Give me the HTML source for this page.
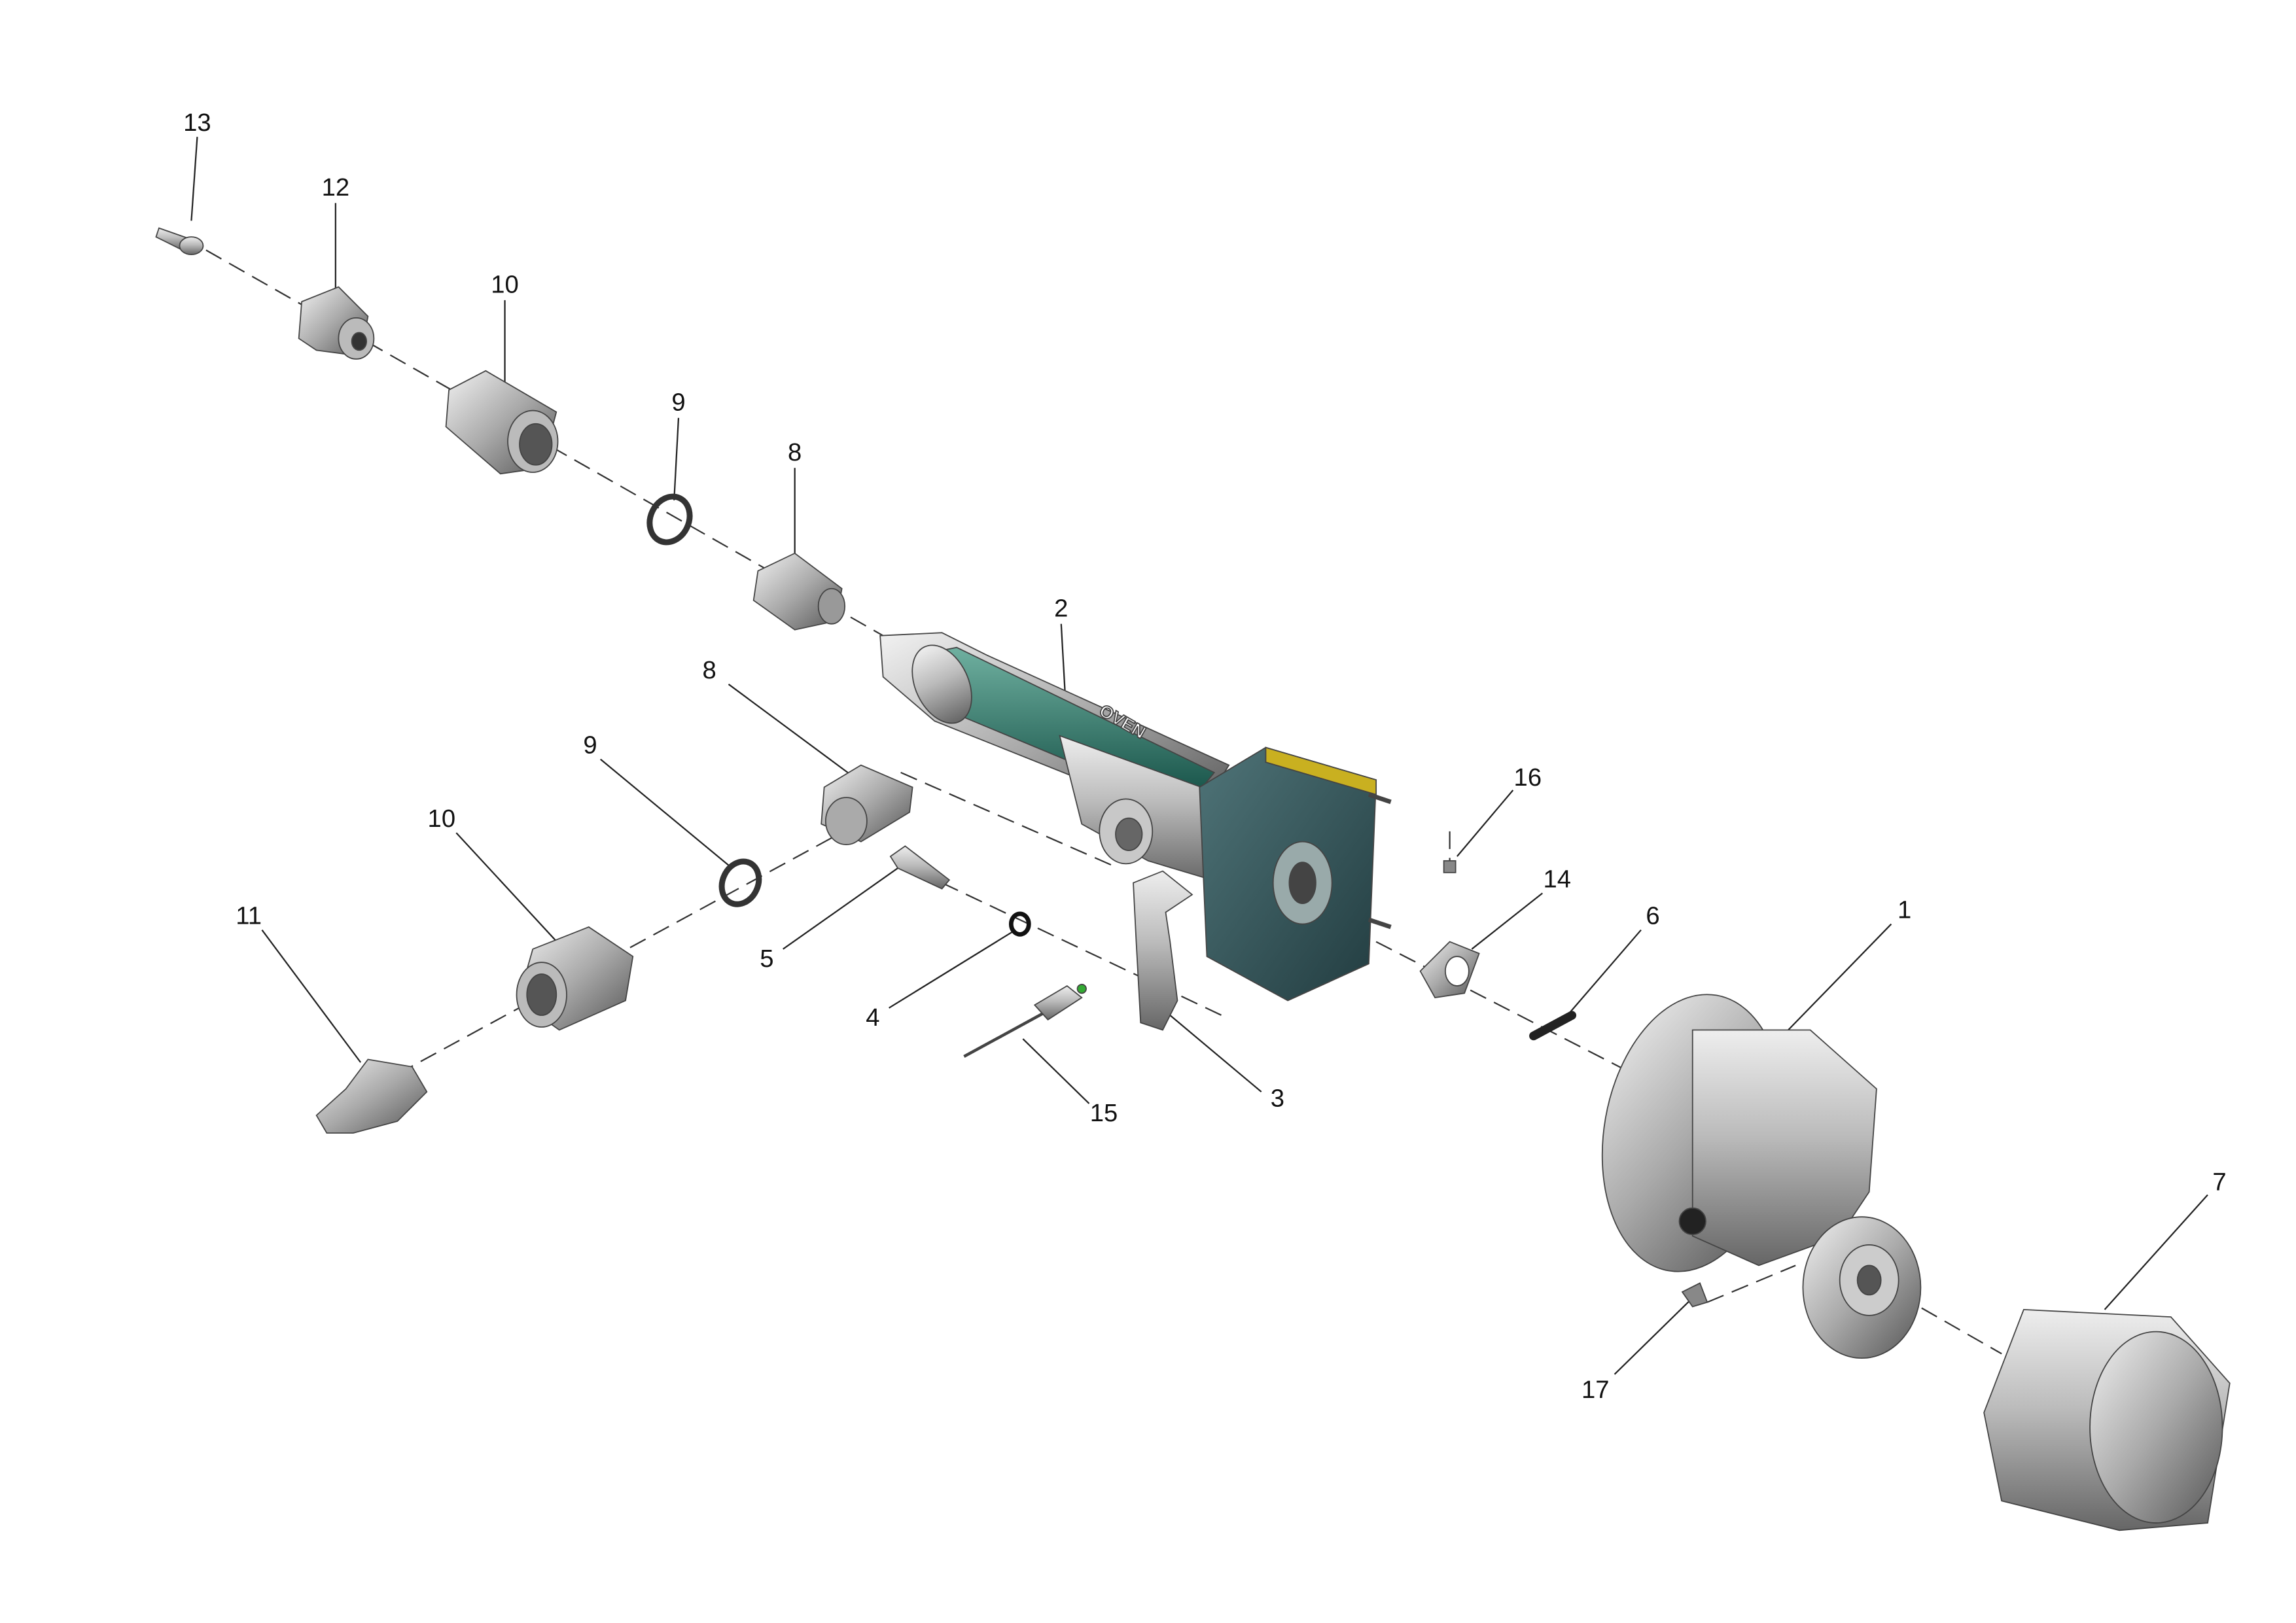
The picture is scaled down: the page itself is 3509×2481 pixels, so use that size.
<!DOCTYPE html>
<html><head><meta charset="utf-8"><style>
html,body{margin:0;padding:0;background:#fff}
svg{display:block}
text{font-family:"Liberation Sans",sans-serif;font-size:17px;fill:#111}
</style></head><body>
<svg width="3509" height="2481" viewBox="0 0 1560 1103" xmlns="http://www.w3.org/2000/svg">
<defs>
<linearGradient id="m" x1="0" y1="0" x2="0" y2="1"><stop offset="0" stop-color="#eee"/><stop offset=".45" stop-color="#bbb"/><stop offset="1" stop-color="#666"/></linearGradient>
<linearGradient id="m2" x1="0" y1="0" x2="1" y2="1"><stop offset="0" stop-color="#f2f2f2"/><stop offset=".5" stop-color="#aaa"/><stop offset="1" stop-color="#555"/></linearGradient>
<linearGradient id="g" x1="0" y1="0" x2="0" y2="1"><stop offset="0" stop-color="#6fb0a0"/><stop offset="1" stop-color="#0f4a40"/></linearGradient>
<linearGradient id="t" x1="0" y1="0" x2="1" y2="1"><stop offset="0" stop-color="#4f7478"/><stop offset="1" stop-color="#223c40"/></linearGradient>
</defs>
<!-- dashed axes -->
<g stroke="#333" stroke-width="1" stroke-dasharray="12,6" fill="none">
<line x1="140" y1="170" x2="600" y2="432"/>
<line x1="612" y1="525" x2="760" y2="590"/>
<line x1="270" y1="730" x2="610" y2="545"/>
<line x1="640" y1="600" x2="830" y2="690"/>
<line x1="935" y1="640" x2="1110" y2="730"/>
<line x1="1290" y1="880" x2="1360" y2="920"/>
<line x1="1160" y1="885" x2="1220" y2="860"/>
<line x1="985" y1="565" x2="985" y2="585"/>
</g>
<!-- leaders -->
<g stroke="#222" stroke-width="1">
<line x1="134" y1="93" x2="130" y2="150"/>
<line x1="228" y1="138" x2="228" y2="200"/>
<line x1="343" y1="204" x2="343" y2="262"/>
<line x1="461" y1="284" x2="458" y2="340"/>
<line x1="540" y1="318" x2="540" y2="382"/>
<line x1="721" y1="424" x2="725" y2="495"/>
<line x1="495" y1="465" x2="580" y2="528"/>
<line x1="408" y1="516" x2="495" y2="588"/>
<line x1="310" y1="566" x2="382" y2="644"/>
<line x1="178" y1="632" x2="245" y2="722"/>
<line x1="532" y1="645" x2="610" y2="590"/>
<line x1="604" y1="685" x2="690" y2="632"/>
<line x1="740" y1="750" x2="695" y2="706"/>
<line x1="857" y1="742" x2="795" y2="690"/>
<line x1="1028" y1="537" x2="990" y2="582"/>
<line x1="1048" y1="607" x2="1000" y2="645"/>
<line x1="1115" y1="632" x2="1065" y2="690"/>
<line x1="1285" y1="628" x2="1215" y2="700"/>
<line x1="1500" y1="812" x2="1430" y2="890"/>
<line x1="1097" y1="934" x2="1148" y2="884"/>
</g>
<!-- parts -->
<g stroke="#444" stroke-width="0.8">
<!-- 13 -->
<path d="M108 155 L128 162 L124 170 L106 161Z" fill="url(#m)"/><ellipse cx="130" cy="167" rx="8" ry="6" fill="url(#m)"/>
<!-- 12 -->
<path d="M205 205 L230 195 L250 215 L245 242 L215 238 L203 230Z" fill="url(#m2)"/><ellipse cx="242" cy="230" rx="12" ry="14" fill="#bbb"/><ellipse cx="244" cy="232" rx="5" ry="6" fill="#333"/>
<!-- 10 top -->
<path d="M305 265 L330 252 L378 280 L368 318 L340 322 L303 290Z" fill="url(#m2)"/><ellipse cx="362" cy="300" rx="17" ry="21" fill="#bbb"/><ellipse cx="364" cy="302" rx="11" ry="14" fill="#555"/>
<!-- 9 top -->
<ellipse cx="455" cy="353" rx="13" ry="16" fill="none" stroke="#333" stroke-width="4" transform="rotate(25 455 353)"/>
<!-- 8 top -->
<path d="M515 388 L540 376 L572 400 L568 422 L540 428 L512 408Z" fill="url(#m2)"/><ellipse cx="565" cy="412" rx="9" ry="12" fill="#999"/>
<!-- 2 tube -->
<path d="M598 432 L640 430 L670 445 L835 520 L810 560 L635 490 L600 460Z" fill="url(#m2)"/>
<path d="M625 445 L650 440 L825 525 L805 550 L625 475Z" fill="url(#g)"/>
<ellipse cx="640" cy="465" rx="18" ry="28" fill="url(#m)" transform="rotate(-25 640 465)"/>
<path d="M720 500 L830 540 L830 600 L780 585 L735 560Z" fill="url(#m)"/>
<ellipse cx="765" cy="565" rx="18" ry="22" fill="#c8c8c8"/><ellipse cx="767" cy="567" rx="9" ry="11" fill="#666"/>
<text x="738" y="495" transform="rotate(30 760 505)" style="font-size:12px;font-weight:bold;fill:#fff">OVEN</text>
<!-- block -->
<path d="M815 535 L860 508 L935 530 L930 655 L875 680 L820 650Z" fill="url(#t)"/>
<path d="M860 508 L935 530 L935 540 L860 518Z" fill="#c9b020"/>
<ellipse cx="885" cy="600" rx="20" ry="28" fill="#9aa"/><ellipse cx="885" cy="600" rx="9" ry="14" fill="#444"/>
<line x1="930" y1="540" x2="945" y2="545" stroke-width="3"/><line x1="930" y1="625" x2="945" y2="630" stroke-width="3"/>
<!-- 8 lower -->
<path d="M560 535 L585 520 L620 535 L618 552 L585 572 L558 560Z" fill="url(#m2)"/><ellipse cx="575" cy="558" rx="14" ry="16" fill="#aaa"/>
<!-- 9 lower -->
<ellipse cx="503" cy="600" rx="12" ry="15" fill="none" stroke="#333" stroke-width="4" transform="rotate(25 503 600)"/>
<!-- 10 lower -->
<path d="M362 645 L400 630 L430 650 L425 680 L380 700 L352 680Z" fill="url(#m2)"/><ellipse cx="368" cy="676" rx="17" ry="22" fill="#bbb"/><ellipse cx="368" cy="676" rx="10" ry="14" fill="#555"/>
<!-- 11 -->
<path d="M215 758 L235 740 L250 720 L280 725 L290 742 L270 762 L240 770 L222 770Z" fill="url(#m2)"/>
<!-- 5 -->
<path d="M605 582 L615 575 L645 598 L640 604 L610 590Z" fill="url(#m)"/>
<!-- 4 -->
<ellipse cx="693" cy="628" rx="6" ry="7" fill="none" stroke="#111" stroke-width="3"/>
<!-- 15 -->
<line x1="655" y1="718" x2="710" y2="688" stroke-width="2"/>
<path d="M703 683 L725 670 L735 678 L712 693Z" fill="url(#m)"/><circle cx="735" cy="672" r="3" fill="#3a3"/>
<!-- 3 -->
<path d="M770 600 L790 592 L810 608 L792 620 L795 640 L800 680 L790 700 L775 695 L772 640Z" fill="url(#m)"/>
<!-- 16 -->
<rect x="981" y="585" width="8" height="8" fill="#888"/>
<!-- 14 -->
<path d="M965 660 L985 640 L1005 648 L995 675 L975 678Z" fill="url(#m2)"/><ellipse cx="990" cy="660" rx="8" ry="10" fill="#fff"/>
<!-- 6 -->
<line x1="1042" y1="704" x2="1068" y2="690" stroke="#222" stroke-width="6" stroke-linecap="round"/>
<!-- 1 -->
<ellipse cx="1150" cy="770" rx="60" ry="95" fill="url(#m2)" transform="rotate(10 1150 770)"/>
<path d="M1150 700 L1230 700 L1275 740 L1270 810 L1250 840 L1195 860 L1150 840Z" fill="url(#m)"/>
<ellipse cx="1265" cy="875" rx="40" ry="48" fill="url(#m2)"/>
<ellipse cx="1270" cy="870" rx="20" ry="24" fill="#ccc"/><ellipse cx="1270" cy="870" rx="8" ry="10" fill="#555"/>
<circle cx="1150" cy="830" r="9" fill="#222"/>
<!-- 7 -->
<path d="M1375 890 L1475 895 L1515 940 L1500 1035 L1440 1040 L1360 1020 L1348 960Z" fill="url(#m)"/>
<ellipse cx="1465" cy="970" rx="45" ry="65" fill="url(#m2)"/>
<!-- 17 -->
<path d="M1143 878 L1155 872 L1160 885 L1150 888Z" fill="#888"/>
</g>
<!-- labels -->
<g text-anchor="middle">
<text x="134" y="89">13</text><text x="228" y="133">12</text><text x="343" y="199">10</text>
<text x="461" y="279">9</text><text x="540" y="313">8</text><text x="721" y="419">2</text>
<text x="482" y="461">8</text><text x="401" y="512">9</text><text x="300" y="562">10</text>
<text x="169" y="628">11</text><text x="521" y="657">5</text><text x="593" y="697">4</text>
<text x="750" y="762">15</text><text x="868" y="752">3</text><text x="1038" y="534">16</text>
<text x="1058" y="603">14</text><text x="1123" y="628">6</text><text x="1294" y="624">1</text>
<text x="1508" y="809">7</text><text x="1084" y="950">17</text>
</g>
</svg>
</body></html>
